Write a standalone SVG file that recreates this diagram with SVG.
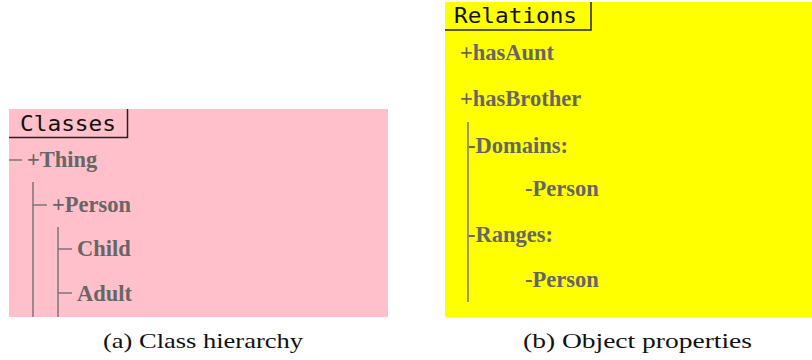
<svg xmlns="http://www.w3.org/2000/svg" width="812" height="360" viewBox="0 0 812 360">
<style>
.node{font-family:'Liberation Serif','DejaVu Serif',serif;font-weight:700;font-size:22.5px;fill:#666}
.mono{font-family:'DejaVu Sans Mono',monospace;font-size:21px;fill:#111}
.cap{font-family:'Liberation Serif','DejaVu Serif',serif;font-size:22px;fill:#111}
.ln{stroke:#777;stroke-width:1.5;fill:none}
.bd{stroke:#222;stroke-width:1.5;fill:none}
</style>
<rect x="9" y="109" width="379" height="208" fill="#ffc0cb"/>
<rect x="445" y="2" width="367" height="315" fill="#ffff00"/>
<g id="classes-title">
<text class="mono" x="20" y="131" textLength="96" lengthAdjust="spacingAndGlyphs">Classes</text>
<path class="bd" d="M9 137.5H127.5V109"/>
</g>
<g id="relations-title">
<text class="mono" x="454" y="23" textLength="123" lengthAdjust="spacingAndGlyphs">Relations</text>
<path class="bd" d="M445 30H591V2"/>
</g>
<g id="connectors">
<path class="ln" d="M9 160H22"/>
<path class="ln" d="M33 182V317"/>
<path class="ln" d="M33 205H47"/>
<path class="ln" d="M58 227V317"/>
<path class="ln" d="M58 249H72"/>
<path class="ln" d="M58 293H72"/>
<path class="ln" d="M468 122V302"/>
</g>
<g id="thing"><text class="node" x="27" y="167">+Thing</text></g>
<g id="person"><text class="node" x="52" y="212">+Person</text></g>
<g id="child"><text class="node" x="77" y="256">Child</text></g>
<g id="adult"><text class="node" x="77" y="301">Adult</text></g>
<g id="hasAunt"><text class="node" x="460" y="60">+hasAunt</text></g>
<g id="hasBrother"><text class="node" x="460" y="106">+hasBrother</text></g>
<g id="domains"><text class="node" x="468" y="153">-Domains:</text></g>
<g id="domain-person"><text class="node" x="525" y="196">-Person</text></g>
<g id="ranges"><text class="node" x="468" y="242">-Ranges:</text></g>
<g id="range-person"><text class="node" x="525" y="287">-Person</text></g>
<text class="cap" x="103" y="348" textLength="200" lengthAdjust="spacingAndGlyphs">(a) Class hierarchy</text>
<text class="cap" x="523" y="348" textLength="229" lengthAdjust="spacingAndGlyphs">(b) Object properties</text>
</svg>
